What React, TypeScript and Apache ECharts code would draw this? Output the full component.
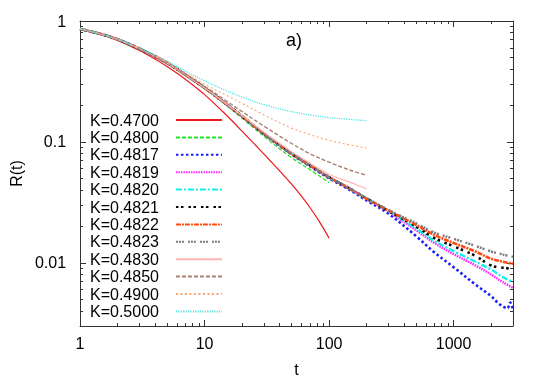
import React, { useEffect, useRef } from "react";
import * as echarts from "echarts";

// ---- data ----
const K_LABELS = [
  "K=0.4700", "K=0.4800", "K=0.4817", "K=0.4819", "K=0.4820", "K=0.4821",
  "K=0.4822", "K=0.4823", "K=0.4830", "K=0.4850", "K=0.4900", "K=0.5000",
];

const T_RED = [1, 1.5, 2, 3, 4, 5, 7, 10, 15, 20, 30, 40, 50, 60, 70, 85, 100];
const T_TO_100 = [1, 1.5, 2, 3, 4, 5, 7, 10, 15, 20, 30, 50, 70, 100];
const T_TO_200 = [1, 1.5, 2, 3, 4, 5, 7, 10, 15, 20, 30, 50, 70, 100, 150, 200];
const T_TO_3000 = [1, 1.5, 2, 3, 4, 5, 7, 10, 15, 20, 30, 50, 70, 100, 150, 200, 300, 500, 700, 1000, 1500, 2000, 2500, 3000];
const T_BLUE = [1, 1.5, 2, 3, 4, 5, 7, 10, 15, 20, 30, 50, 70, 100, 150, 200, 300, 500, 700, 1000, 1500, 2000, 2250, 2450, 2700, 2850, 3000];

const R_4700 = [0.86, 0.768, 0.692, 0.57, 0.484, 0.42, 0.33, 0.246, 0.166, 0.1227, 0.0792, 0.0577, 0.0447, 0.0356, 0.0288, 0.0213, 0.016];
const R_4800 = [0.86, 0.775, 0.705, 0.59, 0.51, 0.45, 0.358, 0.277, 0.2, 0.157, 0.111, 0.074, 0.059, 0.046];
const R_4817 = [0.86, 0.775, 0.705, 0.59, 0.51, 0.45, 0.36, 0.28, 0.205, 0.163, 0.116, 0.079, 0.063, 0.05, 0.0395, 0.0328, 0.0255, 0.0166, 0.0122, 0.0092, 0.0066, 0.0053, 0.0047, 0.0044, 0.0042, 0.0047, 0.0041];
const R_4819 = [0.86, 0.775, 0.705, 0.59, 0.51, 0.45, 0.36, 0.28, 0.205, 0.163, 0.117, 0.08, 0.064, 0.051, 0.0405, 0.034, 0.0265, 0.0186, 0.0146, 0.0118, 0.0095, 0.008, 0.0069, 0.0062];
const R_4820 = [0.86, 0.775, 0.705, 0.59, 0.51, 0.45, 0.36, 0.28, 0.205, 0.163, 0.117, 0.08, 0.064, 0.051, 0.0405, 0.034, 0.0268, 0.0192, 0.0152, 0.0125, 0.0102, 0.0088, 0.0076, 0.0069];
const R_4821 = [0.86, 0.775, 0.705, 0.59, 0.51, 0.45, 0.36, 0.28, 0.205, 0.163, 0.117, 0.08, 0.064, 0.051, 0.0405, 0.034, 0.0268, 0.02, 0.016, 0.0137, 0.0114, 0.0095, 0.0091, 0.0089];
const R_4822 = [0.86, 0.775, 0.705, 0.59, 0.51, 0.45, 0.36, 0.28, 0.205, 0.163, 0.117, 0.08, 0.064, 0.051, 0.0405, 0.034, 0.0271, 0.0206, 0.017, 0.0146, 0.0124, 0.0108, 0.0102, 0.0098];
const R_4823 = [0.86, 0.775, 0.705, 0.59, 0.51, 0.45, 0.36, 0.28, 0.205, 0.163, 0.117, 0.08, 0.064, 0.051, 0.0405, 0.0342, 0.0273, 0.0212, 0.0178, 0.0158, 0.0138, 0.0124, 0.0117, 0.0112];
const R_4830 = [0.86, 0.775, 0.705, 0.59, 0.51, 0.45, 0.36, 0.28, 0.206, 0.165, 0.12, 0.083, 0.067, 0.054, 0.046, 0.041];
const R_4850 = [0.86, 0.775, 0.705, 0.59, 0.51, 0.452, 0.364, 0.288, 0.218, 0.178, 0.135, 0.097, 0.08, 0.068, 0.058, 0.053];
const R_4900 = [0.86, 0.775, 0.706, 0.593, 0.515, 0.457, 0.372, 0.3, 0.243, 0.208, 0.167, 0.13, 0.115, 0.103, 0.094, 0.089];
const R_5000 = [0.86, 0.777, 0.709, 0.598, 0.522, 0.465, 0.385, 0.32, 0.265, 0.235, 0.203, 0.178, 0.167, 0.159, 0.153, 0.15];

const SERIES_T = [T_RED, T_TO_100, T_BLUE, T_TO_3000, T_TO_3000, T_TO_3000, T_TO_3000, T_TO_3000, T_TO_200, T_TO_200, T_TO_200, T_TO_200];
const SERIES_R = [R_4700, R_4800, R_4817, R_4819, R_4820, R_4821, R_4822, R_4823, R_4830, R_4850, R_4900, R_5000];

// axis ticks
const X_RANGE = [1, 3000];
const Y_RANGE = [0.003, 1];
const X_MAJOR = [1, 10, 100, 1000];
const X_MAJOR_LABELS = ["1", "10", "100", "1000"];
const X_MINOR = [2, 3, 4, 5, 6, 7, 8, 9, 20, 30, 40, 50, 60, 70, 80, 90, 200, 300, 400, 500, 600, 700, 800, 900, 2000, 3000];
const Y_MAJOR = [0.01, 0.1, 1];
const Y_MAJOR_LABELS = ["0.01", "0.1", "1"];
const Y_MINOR = [0.003, 0.004, 0.005, 0.006, 0.007, 0.008, 0.009, 0.02, 0.03, 0.04, 0.05, 0.06, 0.07, 0.08, 0.09, 0.2, 0.3, 0.4, 0.5, 0.6, 0.7, 0.8, 0.9];

// ---- styles ----
const COLORS = ["#f01818", "#22e022", "#1a1aff", "#ff22ff", "#11eeee", "#000000", "#ff4a10", "#7a7a7a", "#ffb4b4", "#a8806e", "#ffa26e", "#4ee4e4"];
const WIDTHS = [1.2, 1.2, 2.6, 2.4, 2.4, 2.6, 2.6, 2.4, 1.2, 1.4, 1.1, 1.3];
const DASHES: any[] = ["solid", [4, 2], [2.5, 2.5], [1.5, 1], [6, 2, 2, 2], [2.5, 2.5, 2.5, 5], [5, 1, 2, 1], [2, 1, 2, 1, 2, 4], "solid", [4, 2], [2, 2.5], [1.2, 1.2]];

const FONT = "'Liberation Sans', Arial, Helvetica, sans-serif";
const AXIS_COLOR = "#333";
const lg = (v: number) => Math.log10(v);

function labelFor(v: number, majors: number[], labels: string[]) {
  for (let i = 0; i < majors.length; i++) {
    if (Math.abs(lg(majors[i]) - v) < 1e-6) return labels[i];
  }
  return "";
}

export default function App() {
  const ref = useRef<HTMLDivElement>(null);
  useEffect(() => {
    if (!ref.current) return;
    const chart = echarts.init(ref.current, null, { renderer: "svg" });

    const xMin = lg(X_RANGE[0]);
    const xMax = lg(X_RANGE[1]);
    const yMin = lg(Y_RANGE[0]);
    const yMax = lg(Y_RANGE[1]);

    const mkX = (position: string, major: boolean, main: boolean) => ({
      type: "value",
      position,
      min: xMin,
      max: xMax,
      splitLine: { show: false },
      axisLine: { show: main || (major && position === "top"), onZero: false, lineStyle: { color: AXIS_COLOR, width: 1 } },
      axisTick: {
        show: true,
        inside: true,
        length: major ? 6 : 3,
        lineStyle: { color: AXIS_COLOR, width: 1 },
        customValues: (major ? X_MAJOR : X_MINOR).map(lg),
      },
      axisLabel: main
        ? {
            show: true,
            margin: 9,
            fontSize: 16,
            fontFamily: FONT,
            color: "#000",
            customValues: X_MAJOR.map(lg),
            formatter: (v: number) => labelFor(v, X_MAJOR, X_MAJOR_LABELS),
          }
        : { show: false },
      name: main ? "t" : "",
      nameLocation: "middle",
      nameGap: 35,
      nameTextStyle: { fontSize: 16, fontFamily: FONT, color: "#000" },
    });

    const mkY = (position: string, major: boolean, main: boolean) => ({
      type: "value",
      position,
      min: yMin,
      max: yMax,
      splitLine: { show: false },
      axisLine: { show: main || (major && position === "right"), onZero: false, lineStyle: { color: AXIS_COLOR, width: 1 } },
      axisTick: {
        show: true,
        inside: true,
        length: major ? 6 : 3,
        lineStyle: { color: AXIS_COLOR, width: 1 },
        customValues: (major ? Y_MAJOR : Y_MINOR).map(lg),
      },
      axisLabel: main
        ? {
            show: true,
            margin: 14,
            fontSize: 16,
            fontFamily: FONT,
            color: "#000",
            customValues: Y_MAJOR.map(lg),
            formatter: (v: number) => labelFor(v, Y_MAJOR, Y_MAJOR_LABELS),
          }
        : { show: false },
      name: main ? "R(t)" : "",
      nameLocation: "middle",
      nameGap: 45,
      nameTextStyle: { fontSize: 16, fontFamily: FONT, color: "#000" },
    });

    const series = K_LABELS.map((name, i) => ({
      type: "line",
      name,
      xAxisIndex: 0,
      yAxisIndex: 0,
      data: SERIES_T[i].map((t, j) => [lg(t), lg(SERIES_R[i][j])]),
      symbol: "none",
      showSymbol: false,
      smooth: 0.35,
      clip: true,
      lineStyle: { color: COLORS[i], width: WIDTHS[i], type: DASHES[i] },
      itemStyle: { color: COLORS[i] },
      emphasis: { disabled: true },
    }));

    chart.setOption({
      animation: false,
      title: {
        text: "a)",
        left: 286,
        top: 31,
        padding: 0,
        textStyle: { fontSize: 18, fontWeight: "normal", fontFamily: FONT, color: "#000" },
      },
      grid: { left: 72, right: 32, top: 21, bottom: 56, containLabel: false },
      xAxis: [mkX("bottom", true, true), mkX("bottom", false, false), mkX("top", true, false), mkX("top", false, false)],
      yAxis: [mkY("left", true, true), mkY("left", false, false), mkY("right", true, false), mkY("right", false, false)],
      legend: {
        orient: "vertical",
        left: 90,
        top: 112,
        padding: 0,
        align: "right",
        itemWidth: 46,
        itemHeight: 12,
        itemGap: 1.4,
        selectedMode: false,
        itemStyle: { opacity: 0 },
        textStyle: { fontSize: 16, lineHeight: 16, fontFamily: FONT, color: "#000", padding: [0, 12, 0, 0] },
        data: K_LABELS,
      },
      series,
    });
    return () => chart.dispose();
  }, []);
  return <div ref={ref} style={{ position: "fixed", left: 0, top: 0, width: 545, height: 382 }} />;
}
